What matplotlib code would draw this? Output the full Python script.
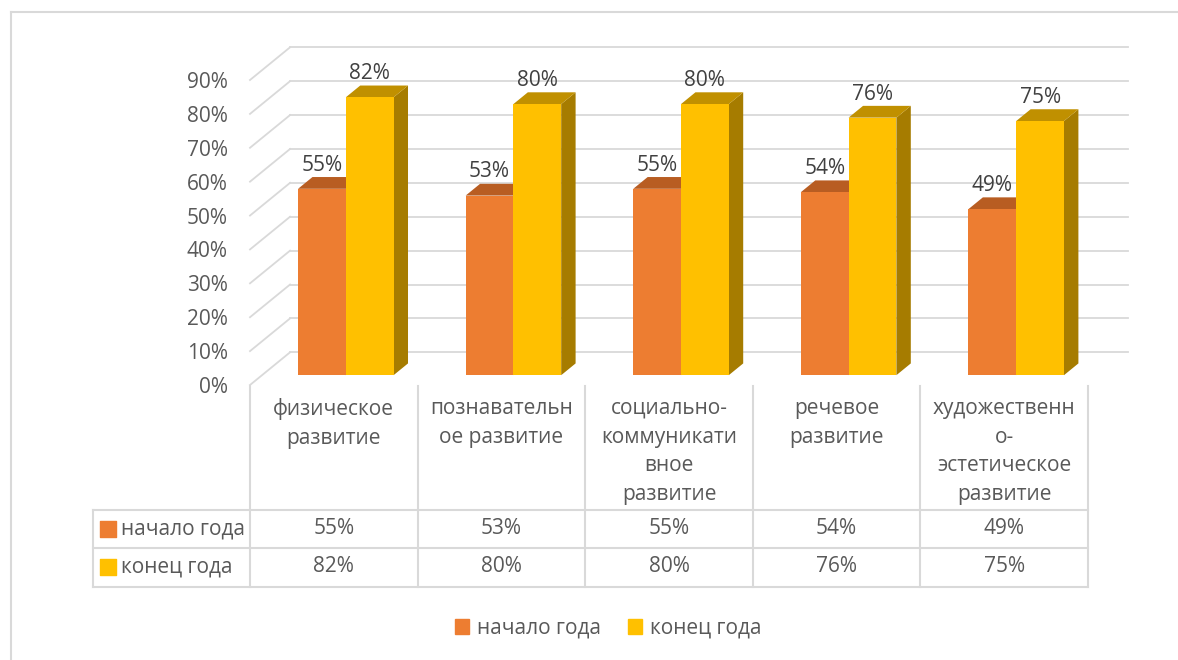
import matplotlib.pyplot as plt
from matplotlib.patches import Polygon, Patch

plt.rcParams['font.family'] = ['Open Sans', 'DejaVu Sans']

categories = ["физическое\nразвитие", "познавательн\nое развитие",
              "социально-\nкоммуникати\nвное\nразвитие", "речевое\nразвитие",
              "художественн\nо-\nэстетическое\nразвитие"]
series_names = ["начало года", "конец года"]
start_year = [0.55, 0.53, 0.55, 0.54, 0.49]
end_year = [0.82, 0.80, 0.80, 0.76, 0.75]
y_ticks = [0.0, 0.1, 0.2, 0.3, 0.4, 0.5, 0.6, 0.7, 0.8, 0.9]

front_colors = ["#ED7D31", "#FFC000"]
top_colors = ["#B85D22", "#C09000"]
side_colors = ["#A2521C", "#A67C00"]
grid_color = "#D9D9D9"
text_color = "#595959"

# oblique depth offset in data units (category units, value units)
DX, DY = 0.239, 0.0965
Z0, Z1 = 0.30, 0.66
BAR_W = 0.285


def proj(x, v, z):
    return (x + z * DX, v + z * DY)


fig = plt.figure(figsize=(11.78, 6.6), dpi=100)
W, H = 1178, 660

# outer frame (only top/left visible)
fig.add_artist(plt.Line2D([11 / W, 11 / W], [0, 1 - 12 / H], color=grid_color, lw=1.5,
                          transform=fig.transFigure))
fig.add_artist(plt.Line2D([11 / W, 1], [1 - 12 / H, 1 - 12 / H], color=grid_color, lw=1.5,
                          transform=fig.transFigure))

ax = fig.add_axes([250 / W, 1 - 385 / H, 838 / W, 305 / H])
n = len(categories)
ax.set_xlim(0, n)
ax.set_ylim(0, 0.9)
for s in ax.spines.values():
    s.set_visible(False)
ax.set_xticks([])
ax.set_yticks(y_ticks)
ax.set_yticklabels([f"{int(round(t * 100))}%" for t in y_ticks], fontsize=15, color=text_color)
ax.tick_params(axis='y', length=0, pad=16)

# walls
for t in y_ticks:
    x0, v0 = proj(0, t, 0)
    x1, v1 = proj(0, t, 1)
    ax.plot([x0, x1], [v0, v1], color=grid_color, lw=1.3, clip_on=False, zorder=1)
    xr, vr = proj(n, t, 1)
    ax.plot([x1, xr], [v1, vr], color=grid_color, lw=1.3, clip_on=False, zorder=1)

# bars
for i in range(n):
    for k, vals in enumerate([start_year, end_year]):
        v = vals[i]
        xl = i + 0.5 - BAR_W + k * BAR_W
        xr = xl + BAR_W
        front = [proj(xl, 0, Z0), proj(xr, 0, Z0), proj(xr, v, Z0), proj(xl, v, Z0)]
        top = [proj(xl, v, Z0), proj(xr, v, Z0), proj(xr, v, Z1), proj(xl, v, Z1)]
        side = [proj(xr, 0, Z0), proj(xr, 0, Z1), proj(xr, v, Z1), proj(xr, v, Z0)]
        z = 3 + i * 2 + k
        ax.add_patch(Polygon(side, closed=True, fc=side_colors[k], ec='none', zorder=z, clip_on=False))
        ax.add_patch(Polygon(top, closed=True, fc=top_colors[k], ec='none', zorder=z, clip_on=False))
        ax.add_patch(Polygon(front, closed=True, fc=front_colors[k], ec='none', zorder=z, clip_on=False))
        lx, ly = proj(xl + BAR_W / 2, v, Z0)
        ax.annotate(f"{int(round(v * 100))}%", (lx, ly), xytext=(0, 17), textcoords='offset points',
                    ha='center', va='center', fontsize=15, color="#404040", zorder=20,
                    annotation_clip=False)

# data table under the plot
tab = fig.add_axes([93 / W, 1 - 587 / H, (1088 - 93) / W, (587 - 386) / H])
left = -(250 - 93) / 167.6
tab.set_xlim(left, n)
tab.set_ylim(201, 0)
tab.axis('off')
for yy in [124, 162, 201]:
    tab.plot([left, n], [yy, yy], color=grid_color, lw=1.5, clip_on=False)
tab.plot([left, left], [124, 201], color=grid_color, lw=1.5, clip_on=False)
for i in range(n + 1):
    tab.plot([i, i], [0, 201], color=grid_color, lw=1.5, clip_on=False)
for i, c in enumerate(categories):
    tab.text(i + 0.5, 12, c, ha='center', va='top', fontsize=15, color=text_color, linespacing=1.47)
row_y = [143, 181]
for k, vals in enumerate([start_year, end_year]):
    tab.scatter([left + 0.09], [row_y[k]], marker='s', s=130, color=front_colors[k], clip_on=False)
    tab.text(left + 0.165, row_y[k], series_names[k], ha='left', va='center', fontsize=15, color=text_color)
    for i, v in enumerate(vals):
        tab.text(i + 0.5, row_y[k], f"{int(round(v * 100))}%", ha='center', va='center',
                 fontsize=15, color=text_color)

handles = [Patch(color=front_colors[k], label=series_names[k]) for k in range(2)]
fig.legend(handles=handles, loc='center', bbox_to_anchor=(608 / W, 1 - 628 / H), ncol=2,
           frameon=False, fontsize=15, handlelength=0.7, handleheight=0.7, handletextpad=0.35,
           columnspacing=1.3, labelcolor=text_color)

fig.savefig("out.png", dpi=100)
